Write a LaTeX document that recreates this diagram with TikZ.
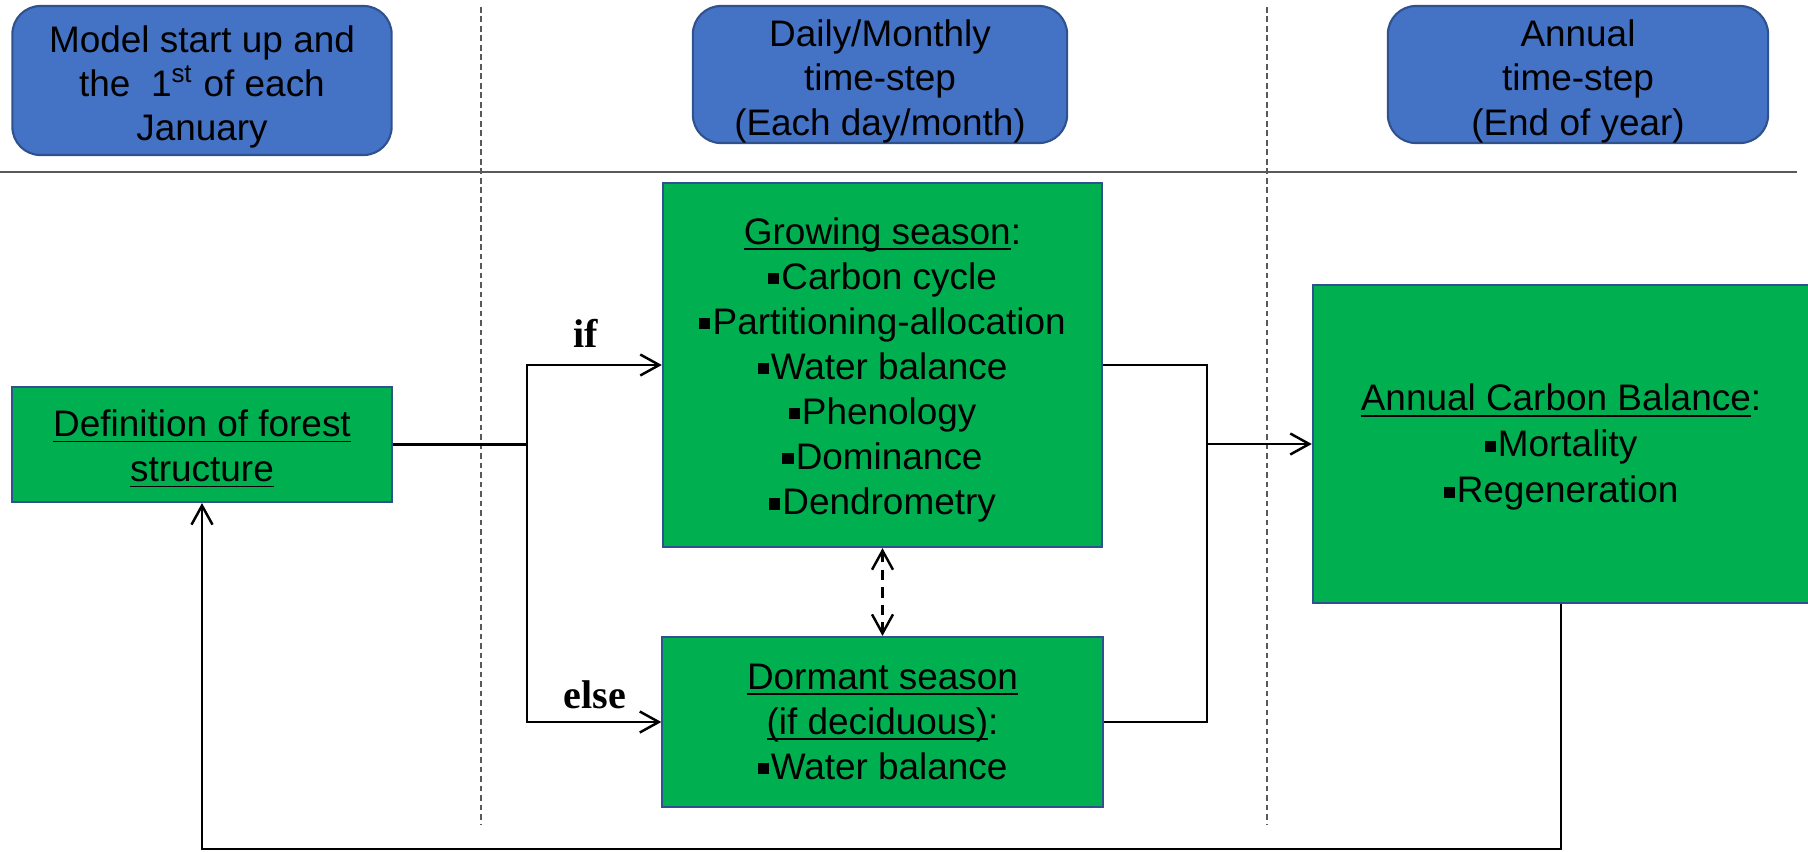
\documentclass[tikz,border=0pt]{standalone}
\usepackage{fontspec}
\setmainfont{Liberation Sans}
\newfontfamily\labelfont{Liberation Serif}
\usetikzlibrary{arrows.meta}
\definecolor{hdblue}{HTML}{4472C4}
\definecolor{boxgreen}{HTML}{00B050}
\definecolor{edgeblue}{HTML}{2F528F}
\definecolor{sepgray}{HTML}{595959}
\newsavebox\ulbox
\newcommand{\sqb}{\rule[0.14em]{0.3em}{0.3em}\hspace{0.06em}}
\newcommand{\ul}[1]{\sbox\ulbox{#1}\rlap{\rule[-1.65pt]{\wd\ulbox}{0.55pt}}\usebox\ulbox}
% pushes a text block down a little (taller first line)
\newcommand{\lift}[1]{\rule{0pt}{#1}}
\tikzset{
    header/.style={draw=edgeblue, fill=hdblue, line width=0.6pt, rounded corners=8pt,
                   align=center, inner sep=0pt, font=\fontsize{10.5}{12.6}\selectfont},
    stage/.style={draw=edgeblue, fill=boxgreen, line width=0.6pt,
                  align=center, inner sep=0pt, font=\fontsize{10.5}{12.8}\selectfont},
    branch/.style={font=\labelfont\bfseries\fontsize{11.4}{13}\selectfont, anchor=base, inner sep=0pt},
    link/.style={line width=0.7pt},
    sep/.style={draw=sepgray, line width=0.5pt, dash pattern=on 1.6pt off 1.1pt}
}

\begin{document}
\begin{tikzpicture}
  [
    x = 0.01cm,
    y = -0.01cm,
    >={Straight Barb[length=1.9mm,width=2.1mm]},
  ]
  \useasboundingbox (0,0) rectangle (1808,851);

  % column headers
  \node [header, minimum width=3.79cm, minimum height=1.49cm] (hdstart) at (202,80.5)
    {\lift{11.2pt}Model start up and\\the\ \ 1\textsuperscript{st} of each\\January};
  \node [header, minimum width=3.74cm, minimum height=1.37cm] (hdday) at (880,74.5)
    {\lift{11.4pt}Daily/Monthly\\time-step\\(Each day/month)};
  \node [header, minimum width=3.80cm, minimum height=1.37cm] (hdyear) at (1578,74.5)
    {\lift{11.4pt}Annual\\time-step\\(End of year)};

  % separators
  \draw [sepgray, line width=0.7pt] (0,172) -- (1797,172);
  \draw [sep] (481,7) -- (481,824);
  \draw [sep] (1267,7) -- (1267,824);

  % process boxes
  \node [stage, minimum width=3.79cm, minimum height=1.15cm] (defn) at (202,444.5)
    {\lift{10pt}\ul{Definition of forest}\\\ul{structure}};
  \node [stage, minimum width=4.39cm, minimum height=3.64cm] (grow) at (882.5,365)
    {\lift{10.5pt}\ul{Growing season}:\\\sqb Carbon cycle\\\sqb Partitioning-allocation\\\sqb Water balance\\
     \sqb Phenology\\\sqb Dominance\\\sqb Dendrometry};
  \node [stage, minimum width=4.40cm, minimum height=1.70cm] (dorm) at (882.5,722)
    {\ul{Dormant season}\\\ul{(if deciduous)}:\\\sqb Water balance};
  \node [stage, minimum width=4.96cm, minimum height=3.18cm, font=\fontsize{10.5}{13.1}\selectfont]
    (annual) at (1561,444)
    {\lift{9.5pt}\ul{Annual Carbon Balance}:\\\sqb Mortality\\\sqb Regeneration};

  % branch labels
  \node [branch] (lblif) at (586,347) {if};
  \node [branch] (lblelse) at (595,708) {else};

  % connectors
  \coordinate (split) at (527,444.5);
  \coordinate (merge) at (1207,444);
  \coordinate (loopr) at (1561,849);
  \coordinate (loopl) at (202,849);
  \draw [link] (defn.east) -- (split);
  \draw [link, ->] (split) |- (grow.west);
  \draw [link, ->] (split) |- (dorm.west);
  \draw [link] (grow.east) -| (merge);
  \draw [link] (dorm.east) -| (merge);
  \draw [link, ->] (merge) -- (annual.west);
  \draw [link, <->, dash pattern=on 3pt off 2pt] (grow.south) -- (dorm.north);
  \draw [link, ->] (annual.south) -- (loopr) -- (loopl) -- (defn.south);
\end{tikzpicture}
\end{document}
